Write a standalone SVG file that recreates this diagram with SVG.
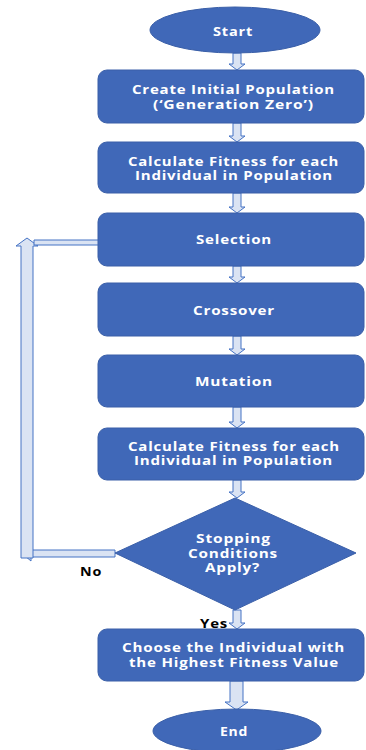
<svg xmlns="http://www.w3.org/2000/svg" width="366" height="750" viewBox="0 0 366 750">
<style>
.n{fill:#4068B8;stroke:#3A5FA8;stroke-width:1}
.t{fill:#fff;font-family:"Open Sans",sans-serif;font-weight:700;font-size:11.5px;text-anchor:middle;dominant-baseline:central;letter-spacing:0.6px}
.l{fill:#000;font-family:"Open Sans",sans-serif;font-weight:700;font-size:11.5px;text-anchor:middle;dominant-baseline:central;letter-spacing:0.6px}
.a{fill:#DAE3F3;stroke:#4472C4;stroke-width:1}
</style>
<rect width="366" height="750" fill="#fff"/>
<g id="connectors">
<path class="a" d="M233,53 H241 V64 H245 L237,70 L229,64 H233 Z"/>
<path class="a" d="M233,123 H241 V136 H245 L237,142 L229,136 H233 Z"/>
<path class="a" d="M233,193 H241 V207 H245 L237,213 L229,207 H233 Z"/>
<path class="a" d="M233,266 H241 V277 H245 L237,283 L229,277 H233 Z"/>
<path class="a" d="M233,336 H241 V349 H245 L237,355 L229,349 H233 Z"/>
<path class="a" d="M233,407 H241 V422 H245 L237,428 L229,422 H233 Z"/>
<path class="a" d="M233,480 H241 V492 H245 L237,498 L229,492 H233 Z"/>
<path class="a" d="M233,610 H241 V623 H245 L237,629 L229,623 H233 Z"/>
<path class="a" d="M230,681 H243 V702 H248 L236.5,710 L225,702 H230 Z"/>
<path class="a" d="M115,550 V557 H31 V561 L22,553.5 L31,546 V550 Z"/>
<path class="a" d="M21,558 V246 H16 L27,238 L38,246 H33 V558 Z"/>
<path class="a" d="M34,240 H100 V237 L106,242.5 L100,248 V245 H34 Z"/>
</g>
<g id="start"><ellipse class="n" cx="235" cy="30" rx="85" ry="23"/><text class="t" x="233" y="31" textLength="40" lengthAdjust="spacingAndGlyphs">Start</text></g>
<g id="init"><rect class="n" x="98" y="70" width="266" height="53" rx="9"/><text class="t" x="233.5" y="89" textLength="203" lengthAdjust="spacingAndGlyphs">Create Initial Population</text><text class="t" x="233.5" y="104" textLength="161" lengthAdjust="spacingAndGlyphs">(‘Generation Zero’)</text></g>
<g id="fitness1"><rect class="n" x="98" y="142" width="266" height="51" rx="9"/><text class="t" x="233.5" y="161" textLength="211" lengthAdjust="spacingAndGlyphs">Calculate Fitness for each</text><text class="t" x="234" y="175" textLength="198" lengthAdjust="spacingAndGlyphs">Individual in Population</text></g>
<g id="selection"><rect class="n" x="98" y="213" width="266" height="53" rx="9"/><text class="t" x="234" y="239" textLength="76" lengthAdjust="spacingAndGlyphs">Selection</text></g>
<g id="crossover"><rect class="n" x="98" y="283" width="266" height="53" rx="9"/><text class="t" x="234" y="310" textLength="82" lengthAdjust="spacingAndGlyphs">Crossover</text></g>
<g id="mutation"><rect class="n" x="98" y="355" width="266" height="52" rx="9"/><text class="t" x="234" y="381" textLength="78" lengthAdjust="spacingAndGlyphs">Mutation</text></g>
<g id="fitness2"><rect class="n" x="98" y="428" width="266" height="52" rx="9"/><text class="t" x="234" y="446" textLength="212" lengthAdjust="spacingAndGlyphs">Calculate Fitness for each</text><text class="t" x="233.5" y="460" textLength="199" lengthAdjust="spacingAndGlyphs">Individual in Population</text></g>
<g id="decision"><polygon class="n" points="235,498 356,553 235,610 115,553"/><text class="t" x="233.5" y="538" textLength="75" lengthAdjust="spacingAndGlyphs">Stopping</text><text class="t" x="233" y="553" textLength="90" lengthAdjust="spacingAndGlyphs">Conditions</text><text class="t" x="232.5" y="567" textLength="55" lengthAdjust="spacingAndGlyphs">Apply?</text></g>
<g id="choose"><rect class="n" x="98" y="629" width="266" height="52" rx="9"/><text class="t" x="233.5" y="647" textLength="223" lengthAdjust="spacingAndGlyphs">Choose the Individual with</text><text class="t" x="234" y="662" textLength="210" lengthAdjust="spacingAndGlyphs">the Highest Fitness Value</text></g>
<g id="end"><ellipse class="n" cx="237" cy="731" rx="84" ry="22"/><text class="t" x="234" y="731" textLength="28" lengthAdjust="spacingAndGlyphs">End</text></g>
<g id="labels"><text class="l" x="91" y="571" textLength="22" lengthAdjust="spacingAndGlyphs">No</text><text class="l" x="214" y="623" textLength="28" lengthAdjust="spacingAndGlyphs">Yes</text></g>
</svg>
